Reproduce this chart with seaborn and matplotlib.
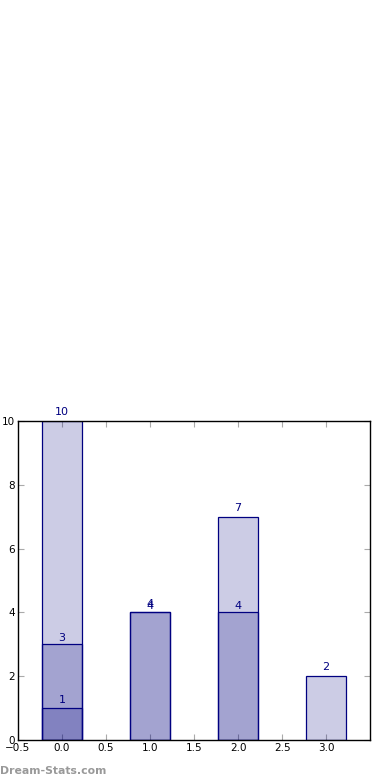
import matplotlib
matplotlib.use('Agg')
import matplotlib.pyplot as plt
import seaborn as sns
import pandas as pd

# three overlapping series (drawn on top of each other)
series_a_x = [0, 1, 2, 3]
series_a_y = [10, 4, 7, 2]
series_b_x = [0, 1, 2]
series_b_y = [3, 4, 4]
series_c_x = [0]
series_c_y = [1]

yticks = [0, 2, 4, 6, 8, 10]
xticks = [-0.5, 0.0, 0.5, 1.0, 1.5, 2.0, 2.5, 3.0]

sns.set_style('white')
plt.rcParams['font.family'] = ['DejaVu Sans']

fig = plt.figure(figsize=(3.9, 7.8), dpi=100)
ax = fig.add_axes([0.046, 0.0513, 0.903, 0.409])

fill = (0, 0, 0.5, 0.2)
groups = [(series_a_x, series_a_y, 0.12), (series_b_x, series_b_y, 0.05), (series_c_x, series_c_y, 0.1)]
for xs, ys, off in groups:
    df = pd.DataFrame({'x': xs, 'y': ys})
    n0 = len(ax.patches)
    sns.barplot(data=df, x='x', y='y', native_scale=True, width=0.45,
                errorbar=None, ax=ax, saturation=1, color='navy')
    for p in ax.patches[n0:]:
        p.set_facecolor(fill)
        p.set_edgecolor('navy')
        p.set_linewidth(0.9)
    for x, y in zip(xs, ys):
        ax.text(x, y + off, str(y), ha='center', va='bottom', color='navy', fontsize=8)

ax.set_xlim(-0.5, 3.5)
ax.set_ylim(0, 10)
ax.set_xticks(xticks)
ax.set_xticklabels([f'{t:.1f}'.replace('-', '\u2212') for t in xticks])
ax.set_yticks(yticks)
ax.set_yticklabels([str(t) for t in yticks])
ax.set_xlabel('')
ax.set_ylabel('')
ax.tick_params(direction='in', length=4, color='#aaaaaa', labelsize=7.5,
               top=True, right=True, bottom=True, left=True, pad=2, labelcolor='black')
for s in ax.spines.values():
    s.set_color('black')
    s.set_linewidth(1.0)

fig.text(0.0, 0.005, 'Dream-Stats.com', color='#999999', fontsize=7.8, fontweight='bold',
         ha='left', va='bottom')

fig.savefig('out.png', dpi=100)
